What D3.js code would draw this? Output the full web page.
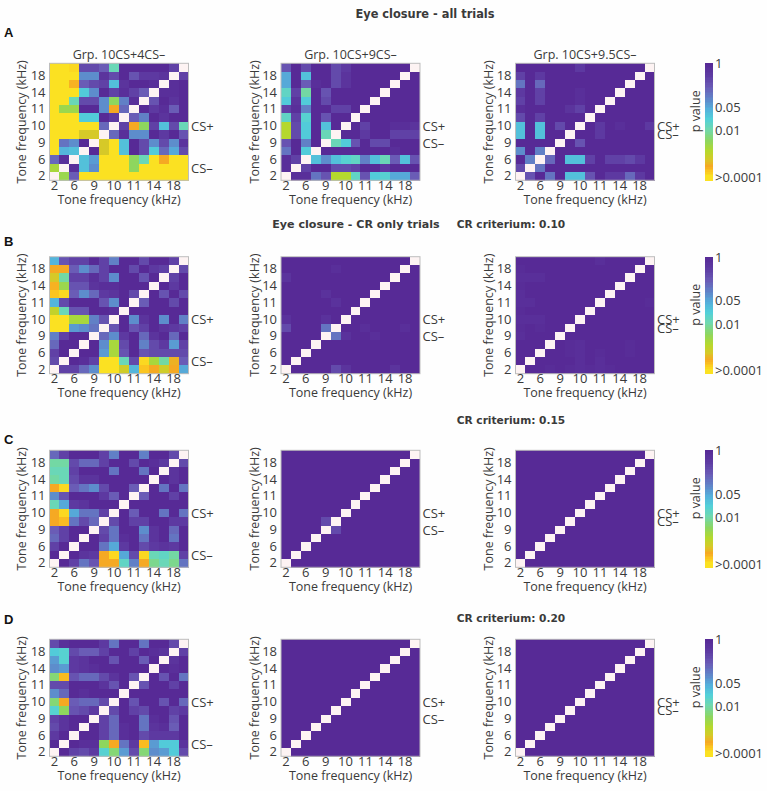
<!DOCTYPE html>
<html><head><meta charset="utf-8">
<style>html,body{margin:0;padding:0;background:#fff}svg{display:block}text{fill:#3a3a3a;font-family:"Open Sans",sans-serif}</style>
<script src="https://cdn.jsdelivr.net/npm/d3@7"></script>
</head><body><svg id="c" width="767" height="791"></svg>
<script>
const _ = null;
// tone frequencies (rows are listed top to bottom, i.e. 20 kHz first); values are -log10(p)
const tones = ["2","4","6","8","9","9.5","10","10.5","11","12","14","16","18","20"];
const tickLabels = ["2","6","9","10","11","14","18"];
const groupTitles = ["Grp. 10CS+4CS–","Grp. 10CS+9CS–","Grp. 10CS+9.5CS–"];
const csMinusTone = ["4","9","9.5"];
const csPlusTone = "10";
const pTickLabels = ["1","0.05","0.01",">0.0001"];
const pTickValues = [0,1.3,2,3.4];

const allA = [
[3.5,3.5,3.3,.5,.5,.7,1.9,0,0,0,0,0,.4,_],
[3.5,3.5,3.5,1.1,1.1,.2,.5,0,.6,.3,.3,.2,_,.4],
[3.5,3.5,3.1,.7,.5,.4,1.5,.2,0,0,.1,_,.1,0],
[3.5,3.5,3.5,1.6,1.1,0,.4,.1,.4,.7,_,.1,.1,0],
[3.5,3.5,1.9,.5,.5,1.1,2.3,1,.1,_,.6,0,.2,0],
[3.5,2.4,2.4,0,0,1.1,3.05,.8,_,0,.3,.1,.7,0],
[3.5,3.5,3.5,1.6,1.6,0,.3,_,.7,1,0,.2,0,0],
[3.5,3.5,3.5,3.5,3.5,.8,_,.4,3.05,2.3,.4,1.5,.5,1.9],
[3.5,3.5,3.5,2.85,2.85,_,.8,.1,1.1,1.1,0,.3,0,.6],
[3.5,.9,1.1,0,_,2.85,3.5,1.5,0,.5,1.1,.5,1.1,.2],
[3.5,1.4,1.5,_,0,2.85,3.5,1.5,0,.5,1.6,.8,1.3,.5],
[.8,.1,_,1.5,1.2,3.5,3.5,3.5,2.3,1.9,3.5,3.05,3.5,3.4],
[2.5,_,.1,1.5,1.1,3.5,3.5,3.5,2.3,3.5,3.5,3.5,3.5,3.5],
[_,2.4,.7,3.5,3.5,3.5,3.5,3.5,3.5,3.5,3.5,3.5,3.5,3.5]];
const allB = [
[.6,0,.5,0,0,.5,.3,0,0,0,0,0,0,_],
[1.3,0,1.5,0,0,.5,.2,0,0,0,0,0,_,0],
[1.3,0,.7,.1,0,.5,.2,0,0,0,0,_,0,0],
[1.8,.4,2,0,.6,0,0,0,0,0,_,0,0,0],
[1.6,.2,1.6,0,.5,0,0,0,0,_,0,0,0,0],
[.4,.1,1,0,0,.4,.4,0,_,0,0,0,0,0],
[1.8,.4,1.7,0,.6,0,0,_,0,0,0,0,0,0],
[2.6,.5,1.6,0,1.5,0,_,0,.4,0,0,.1,.1,.2],
[2.6,.5,1.6,0,1.9,_,0,0,.3,0,0,.4,.4,.4],
[.6,0,1,0,_,1.9,1.6,.6,0,.5,.5,0,0,0],
[.9,0,1.6,_,0,0,0,0,0,0,0,.1,0,0],
[.1,.4,_,1.5,1.1,1.5,1.7,1.8,1,1.5,1.9,.7,1.5,.6],
[.1,_,.4,0,0,.5,.5,.4,0,0,.3,0,0,0],
[_,.1,.1,.9,.6,2.6,2.6,1.8,.6,1.6,1.7,1.3,1.3,.7]];
const allC = [
[0,0,0,0,0,0,.3,0,0,0,0,0,0,_],
[.4,0,.3,0,0,0,0,0,0,0,0,0,_,0],
[.9,0,.8,0,0,0,0,0,0,0,0,_,0,0],
[.3,0,.4,0,0,0,.1,0,0,0,_,0,0,0],
[.4,0,.4,0,0,0,.1,0,0,_,0,0,0,0],
[.1,0,0,0,0,.2,.4,0,_,0,0,0,0,0],
[.5,0,.4,0,0,0,0,_,0,0,0,0,0,0],
[1.5,0,1.5,0,.5,0,_,0,.3,0,.1,0,0,.3],
[1.5,0,1.5,0,0,_,0,0,.3,0,0,0,0,0],
[0,0,0,0,_,0,.6,0,0,0,0,0,0,0],
[1.1,0,1,_,0,0,0,0,0,0,0,0,0,0],
[0,1,_,.8,0,1.5,1.5,.4,0,.4,.4,.5,.3,0],
[.5,_,.9,0,0,0,0,0,0,0,0,0,0,0],
[_,.6,0,.9,0,1.5,1.5,.6,0,.3,.3,.8,.3,0]];
const crTenA = [
[1.4,.6,.4,.4,0,.4,1,0,0,.5,0,0,.4,_],
[3.05,3.05,.7,1.1,.8,.4,0,0,.5,0,.3,.4,_,.5],
[2.85,2,.4,.4,.1,.4,1.1,0,0,.6,0,_,.4,0],
[3.1,2.4,.6,.6,.2,.1,.1,0,0,0,_,0,.3,0],
[3.2,3.3,.7,1.1,.8,.3,.2,0,.5,_,0,.6,0,.5],
[1.4,.5,0,0,0,.6,1.1,0,_,.7,0,0,.5,0],
[2.7,1.9,.6,.6,0,0,.1,_,0,0,0,0,0,0],
[3.5,3.5,2.5,2.5,1,.6,_,0,1.1,.2,0,1.1,0,1],
[3.5,3.5,1.2,1.1,.9,_,.6,0,.6,.4,0,.2,.3,.4],
[1,.4,0,0,_,.8,1.1,.3,0,.8,.2,0,.8,0],
[.8,0,0,_,0,1.1,2.5,.5,0,1,.5,.3,1.2,.4],
[.4,0,_,0,0,1.2,2.5,.6,0,.6,.5,.5,.5,.5],
[.5,_,0,.1,.4,3.5,3.5,1.9,.5,3.3,2.5,2,3,.7],
[_,.4,.4,.8,1.1,3.5,3.5,2.8,1.4,3.2,3.05,2.8,3.05,1.3]];
const crTenB = [
[0,0,0,0,0,0,0,0,0,0,0,0,0,_],
[0,0,0,0,0,.1,0,0,0,0,0,0,_,0],
[.2,0,0,0,0,0,0,0,0,0,0,_,0,0],
[0,0,0,0,0,0,0,0,0,0,_,0,0,0],
[0,0,0,0,.15,0,0,0,0,_,0,0,0,0],
[0,0,0,0,0,.15,0,0,_,0,0,0,0,0],
[0,0,0,0,0,0,0,_,0,0,0,0,0,0],
[.15,0,0,0,.15,0,_,0,0,0,0,0,0,0],
[.5,0,0,0,.9,_,0,0,.1,0,0,0,.1,0],
[0,0,0,0,_,.9,.15,0,0,.1,0,0,0,0],
[0,0,0,_,0,0,0,0,0,0,0,0,0,0],
[0,0,_,0,0,0,0,0,0,0,0,0,0,0],
[0,_,0,0,0,0,0,0,0,0,0,0,0,0],
[_,0,0,0,0,.5,.2,0,0,0,0,.2,0,0]];
const crTenC = [
[0,0,0,0,0,0,0,0,.1,0,0,0,0,_],
[.05,0,0,0,0,0,0,0,0,0,0,0,_,0],
[.1,.1,.1,0,0,0,0,0,0,0,0,_,0,0],
[.05,0,0,0,0,0,0,0,0,0,_,0,0,0],
[.1,0,0,0,0,0,0,0,0,_,0,0,0,0],
[.1,.1,0,0,0,0,0,0,_,0,0,0,0,.05],
[.05,0,0,0,0,0,0,_,0,0,0,0,0,0],
[.1,.1,.1,0,0,0,_,0,0,0,0,0,0,0],
[.05,0,.05,0,0,_,0,0,0,0,0,0,0,0],
[.1,0,0,0,_,0,0,0,0,0,0,0,0,0],
[0,0,0,_,0,.05,.1,0,0,0,0,.05,0,0],
[0,0,_,0,0,.05,.1,0,.05,0,0,.05,0,0],
[0,_,0,0,0,0,.1,0,.1,0,0,0,0,0],
[_,0,0,.05,0,.05,.1,.05,.1,.05,0,0,0,0]];
const crFifteenA = [
[.8,.4,0,0,0,.4,1,0,0,1,0,0,.5,_],
[2,2,.5,.8,.8,.4,0,0,.5,0,.1,.3,_,.5],
[1.9,1.9,.4,0,0,0,.9,0,0,.9,0,_,.2,0],
[2,1.9,.5,.2,.2,0,0,0,0,0,_,0,.2,0],
[3.05,3.3,.7,.9,1.1,.5,0,0,.7,_,0,.9,0,.9],
[1.1,.6,0,0,0,.3,.7,0,_,.7,0,0,.4,0],
[1.9,1.3,.3,.2,0,0,0,_,0,0,0,0,0,0],
[3.05,3.3,1.3,.9,.9,.4,_,0,.7,0,0,.9,0,.9],
[3.05,3.15,.9,.5,.8,_,.5,0,.4,.4,0,0,.3,.3],
[.7,.4,0,0,_,.5,.9,0,0,1.1,.2,0,.8,0],
[.8,.4,0,_,0,.4,.9,.1,0,.9,.2,0,.9,0],
[.4,0,_,0,0,.9,1.3,.3,0,.5,.3,.2,.3,0],
[0,_,0,.2,.3,3.05,3.3,1.3,.5,3.3,1.9,1.8,2,.4],
[_,0,.4,.9,.6,3.05,3.05,1.8,1,3.05,2.1,1.9,2.1,.9]];
const crFifteenB = [
[0,0,0,0,0,0,0,0,0,0,0,0,0,_],
[0,0,0,0,0,0,0,0,0,0,0,0,_,0],
[0,0,0,0,0,0,0,0,0,0,0,_,0,0],
[0,0,0,0,0,0,0,0,0,0,_,0,0,0],
[0,0,0,0,0,0,0,0,0,_,0,0,0,0],
[0,0,0,0,0,0,0,0,_,0,0,0,0,0],
[0,0,0,0,0,0,0,_,0,0,0,0,0,0],
[0,0,0,0,0,0,_,0,0,0,0,0,0,0],
[0,0,0,0,.5,_,0,0,0,0,0,0,0,0],
[0,0,0,0,_,.5,0,0,0,0,0,0,0,0],
[0,0,0,_,0,0,0,0,0,0,0,0,0,0],
[0,0,_,0,0,0,0,0,0,0,0,0,0,0],
[0,_,0,0,0,0,0,0,0,0,0,0,0,0],
[_,0,0,0,0,0,0,0,0,0,0,0,0,0]];
const crFifteenC = [
[0,0,0,0,0,0,0,0,0,0,0,0,0,_],
[0,0,0,0,0,0,0,0,0,0,0,0,_,0],
[0,0,0,0,0,0,0,0,0,0,0,_,0,0],
[0,0,0,0,0,0,0,0,0,0,_,0,0,0],
[0,0,0,0,0,0,0,0,0,_,0,0,0,0],
[0,0,0,0,0,0,0,0,_,0,0,0,0,0],
[0,0,0,0,0,0,0,_,0,0,0,0,0,0],
[0,0,0,0,0,0,_,0,0,0,0,0,0,0],
[0,0,0,0,0,_,0,0,0,0,0,0,0,0],
[0,0,0,0,_,0,0,0,0,0,0,0,0,0],
[0,0,0,_,0,0,0,0,0,0,0,0,0,0],
[0,0,_,0,0,0,0,0,0,0,0,0,0,0],
[0,_,0,0,0,0,0,0,0,0,0,0,0,0],
[_,0,0,0,0,0,0,0,0,0,0,0,0,0]];
const crTwentyA = [
[.5,.1,0,0,0,.3,.9,0,0,.9,0,0,.5,_],
[1.6,1.7,.5,.7,.7,.4,0,0,.4,0,.1,.2,_,.4],
[1.2,1.7,.3,.2,0,0,.6,0,0,.7,0,_,.2,0],
[1.1,1.2,.3,.2,.1,0,0,0,0,0,_,0,.1,0],
[2.2,3.15,.6,.8,.8,.5,.2,0,.6,_,0,.6,0,.9],
[.5,.5,0,0,0,.2,.6,0,_,.6,0,0,.4,0],
[1.1,.8,0,.1,0,0,0,_,0,0,0,0,0,0],
[2.2,3.05,.7,.8,.8,.5,_,0,.6,0,0,.6,0,.8],
[1.7,2.3,.6,.5,.3,_,.5,0,.4,.5,0,0,.4,.3],
[.4,.2,0,0,_,.4,.8,0,0,.9,.1,0,.6,0],
[.5,.2,0,_,0,.4,.8,.1,0,.9,.2,.1,.7,0],
[.3,0,_,0,0,.4,.8,.1,0,.5,.3,.3,.3,0],
[0,_,0,.1,.1,2.3,3.05,.9,.3,3.15,1.2,1.6,1.6,.2],
[_,0,.4,.5,.3,1.7,2.2,1.2,.5,2.2,1.1,1.2,1.6,.5]];
const crTwentyB = crFifteenC;
const crTwentyC = crFifteenC;

const panelRows = [[allA,allB,allC],[crTenA,crTenB,crTenC],[crFifteenA,crFifteenB,crFifteenC],[crTwentyA,crTwentyB,crTwentyC]];
const rowLetters = ["A","B","C","D"];

// layout
const panelLefts = [49.5,281,515.5], panelTops = [63.3,256.7,450.3,639.3];
const pw = 139, ph = 117;
const axisTitleX = [22,255,489], cbX = 705, cbW = 7.5;
const ink = "#3a3a3a";

const colour = d3.scaleLinear()
  .domain([0,.35,.7,1.05,1.35,1.65,1.95,2.3,2.6,2.85,3.05,3.2,3.35,3.5])
  .range(["#572a96","#5e3ca3","#6a5cb6","#5f86c9","#54b0db","#52d0d8","#6fd8b0","#8ed65e","#b5d82d","#d6c928","#f5a923","#fbc520","#fbe122","#fbe122"])
  .clamp(true);

const svg = d3.select("#c");
svg.append("rect").attr("width",767).attr("height",791).attr("fill","#fefefe");

const txt = (s,x,y,size,opts={}) => {
  const t = svg.append("text").attr("x",x).attr("y",y).attr("font-size",size)
    .attr("dominant-baseline","central").attr("text-anchor",opts.anchor||"start")
    .attr("font-weight",opts.bold?"bold":"normal").text(s);
  if(opts.family) t.style("font-family",opts.family);
  if(opts.rot) t.attr("transform",`rotate(-90 ${x} ${y})`);
  return t;
};

panelRows.forEach((cols,r)=>{
  const top = panelTops[r];
  cols.forEach((m,c)=>{
    const left = panelLefts[c];
    const x = d3.scaleBand().domain(tones).range([left,left+pw]).padding(0);
    const y = d3.scaleBand().domain(tones).range([top+ph,top]).padding(0);
    const rev = tones.slice().reverse();
    const g = svg.append("g");
    m.forEach((row,i)=>row.forEach((v,j)=>{
      g.append("rect").attr("x",x(tones[j])).attr("y",y(rev[i]))
       .attr("width",x.bandwidth()+.3).attr("height",y.bandwidth()+.3)
       .attr("shape-rendering","crispEdges")
       .attr("fill",v===null?"#fdf3f3":colour(v));
    }));
    svg.append("rect").attr("x",left).attr("y",top).attr("width",pw).attr("height",ph)
       .attr("fill","none").attr("stroke","#bdbdbd").attr("stroke-width",1);
    const tv = tickLabels;
    const ax = svg.append("g").attr("transform",`translate(0,${top+ph})`)
       .call(d3.axisBottom(x).tickValues(tv).tickSize(0).tickPadding(.5));
    const ay = svg.append("g").attr("transform",`translate(${left},0)`)
       .call(d3.axisLeft(y).tickValues(tv).tickSize(0).tickPadding(4));
    [ax,ay].forEach(a=>{a.select(".domain").remove();a.selectAll("text").attr("font-size",13).style("font-family",'"Open Sans",sans-serif').attr("fill",ink);});
    txt("Tone frequency (kHz)",left+pw/2,top+ph+19,12.5,{anchor:"middle"});
    txt("Tone frequency (kHz)",axisTitleX[c],top+ph/2,12.5,{anchor:"middle",rot:true});
    txt("CS+",left+pw+2.5,y(csPlusTone)+y.bandwidth()/2,13);
    txt("CS–",left+pw+2.5,y(csMinusTone[c])+y.bandwidth()/2,13);
    if(r===0) txt(groupTitles[c],left+pw/2,top-9,12.5,{anchor:"middle"});
  });
  // colour bar
  const cb = svg.append("g");
  const cy = d3.scaleLinear().domain([0,3.5]).range([top,top+ph]);
  d3.range(0,3.5,.05).forEach(v=>{
    cb.append("rect").attr("x",cbX).attr("y",cy(v)).attr("width",cbW).attr("height",cy(.05)-cy(0)+.4)
      .attr("shape-rendering","crispEdges").attr("fill",colour(v));
  });
  pTickValues.forEach((v,i)=>txt(pTickLabels[i],cbX+cbW+2.5,cy(v),13));
  txt("p value",696,top+48,12.5,{anchor:"middle",rot:true});
  txt(rowLetters[r],4,[32,241,439,619][r],13,{bold:true,family:'"Liberation Sans",sans-serif'}).style("fill","#111");
});

const bold = '"DejaVu Sans",sans-serif';
txt("Eye closure - all trials",425,14,11.4,{anchor:"middle",bold:true,family:bold});
txt("Eye closure - CR only trials",356,224,11.1,{anchor:"middle",bold:true,family:bold});
txt("CR criterium: 0.10",511,224,10.6,{anchor:"middle",bold:true,family:bold});
txt("CR criterium: 0.15",511,420,10.6,{anchor:"middle",bold:true,family:bold});
txt("CR criterium: 0.20",511,618,10.6,{anchor:"middle",bold:true,family:bold});
</script></body></html>
